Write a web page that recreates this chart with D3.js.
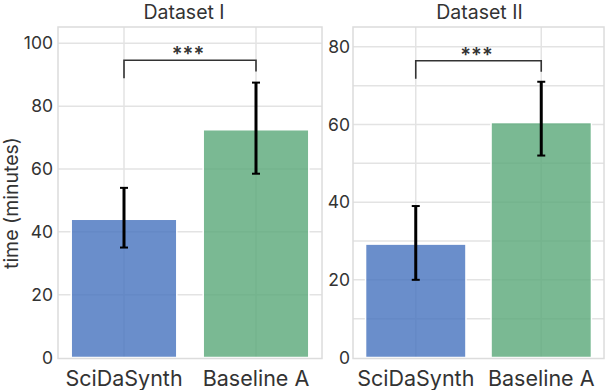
<!DOCTYPE html>
<html><head><meta charset="utf-8">
<script src="https://cdn.jsdelivr.net/npm/d3@7"></script>
<style>body{margin:0;background:#fff}svg{display:block}text{font-family:Inter,"DejaVu Sans",sans-serif;fill:#333}</style>
</head><body>
<svg id="c" width="606" height="390"></svg>
<script>
const categories = ["SciDaSynth", "Baseline A"];
const titles = ["Dataset I", "Dataset II"];
const meansI = [44, 72.5];
const lowI = [35, 58.5];
const highI = [54, 87.5];
const meansII = [29.2, 60.5];
const lowII = [20, 52];
const highII = [39, 71];
const yMaxI = 105.2, yMaxII = 85.1;
const ticksI = [0, 20, 40, 60, 80, 100];
const gridI = [20, 40, 60, 80, 100];
const ticksII = [0, 20, 40, 60, 80];
const gridII = [10, 20, 30, 40, 50, 60, 70, 80];
const bracketI = {top: 94.6, left: 88.9, right: 91};
const bracketII = {top: 76.4, left: 71.8, right: 73.6};
const sigLabel = "***";
const colors = ["#4572be", "#59a878"];

const svg = d3.select("#c");
const panels = [
  {x0: 58, x1: 322, title: titles[0], means: meansI, low: lowI, high: highI, ymax: yMaxI, ticks: ticksI, grid: gridI, br: bracketI, labGap: 5, tdx: -6},
  {x0: 353, x1: 604, title: titles[1], means: meansII, low: lowII, high: highII, ymax: yMaxII, ticks: ticksII, grid: gridII, br: bracketII, labGap: 3, tdx: 1}
];
const plotTop = 27, plotBottom = 357.5;

panels.forEach(p => {
  const x = d3.scaleBand().domain(categories).range([p.x0, p.x1]).paddingInner(0.2).paddingOuter(0.1);
  const xc = c => x(c) + x.bandwidth() / 2;
  const y = d3.scaleLinear().domain([0, p.ymax]).range([plotBottom, plotTop]);
  const g = svg.append("g");
  g.selectAll(".hg").data(p.grid).join("line")
    .attr("x1", p.x0).attr("x2", p.x1).attr("y1", d => y(d)).attr("y2", d => y(d))
    .attr("stroke", "#e3e3e3").attr("stroke-width", 1.5);
  g.selectAll(".vg").data(categories).join("line")
    .attr("x1", d => xc(d)).attr("x2", d => xc(d)).attr("y1", plotTop).attr("y2", plotBottom)
    .attr("stroke", "#e3e3e3").attr("stroke-width", 1.5);
  g.selectAll(".bar").data(categories).join("rect")
    .attr("x", d => x(d)).attr("width", x.bandwidth())
    .attr("y", (d, i) => y(p.means[i])).attr("height", (d, i) => y(0) - y(p.means[i]))
    .attr("fill", (d, i) => colors[i]).attr("fill-opacity", 0.8)
    .attr("stroke", "#fff").attr("stroke-width", 1.5);
  g.append("rect").attr("x", p.x0).attr("y", plotTop).attr("width", p.x1 - p.x0).attr("height", plotBottom - plotTop + 1)
    .attr("fill", "none").attr("stroke", "#dcdcdc").attr("stroke-width", 1.5);
  categories.forEach((c, i) => {
    const cx = xc(c);
    g.append("line").attr("x1", cx).attr("x2", cx).attr("y1", y(p.low[i])).attr("y2", y(p.high[i]))
      .attr("stroke", "#000").attr("stroke-width", 3);
    [p.low[i], p.high[i]].forEach(v => {
      g.append("line").attr("x1", cx - 4).attr("x2", cx + 4).attr("y1", y(v)).attr("y2", y(v))
        .attr("stroke", "#000").attr("stroke-width", 2);
    });
  });
  const bx1 = xc(categories[0]), bx2 = xc(categories[1]);
  g.append("path")
    .attr("d", `M${bx1},${y(p.br.left)}V${y(p.br.top)}H${bx2}V${y(p.br.right)}`)
    .attr("fill", "none").attr("stroke", "#333").attr("stroke-width", 1.6);
  g.append("text").attr("x", (bx1 + bx2) / 2 - 2).attr("y", y(p.br.top) + 1)
    .attr("text-anchor", "middle").attr("font-size", 20).attr("font-weight", 600).text(sigLabel);
  g.selectAll(".yt").data(p.ticks).join("text")
    .attr("x", p.x0 - p.labGap).attr("y", d => y(d)).attr("dy", "0.35em")
    .attr("text-anchor", "end").attr("font-size", 17.5).text(d => d);
  g.selectAll(".xt").data(categories).join("text")
    .attr("x", d => xc(d)).attr("y", 385.5)
    .attr("text-anchor", "middle").attr("font-size", 21.5).text(d => d);
  g.append("text").attr("x", (p.x0 + p.x1) / 2 + p.tdx).attr("y", 19)
    .attr("text-anchor", "middle").attr("font-size", 19.5).text(p.title);
});
svg.append("text").attr("transform", "translate(18,203) rotate(-90)")
  .attr("text-anchor", "middle").attr("font-size", 19.5).text("time (minutes)");
</script>
</body></html>
